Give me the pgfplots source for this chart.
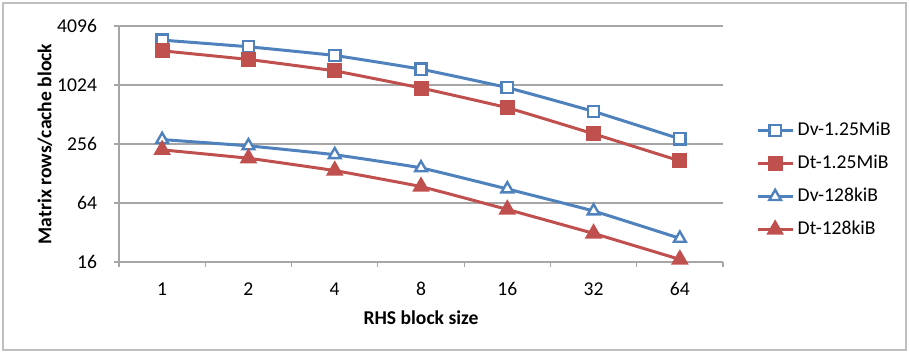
\documentclass[border=0pt]{standalone}
\usepackage{pgfplots}
\pgfplotsset{compat=1.18}
\usepackage{fontspec}
\setmainfont{Carlito}
\definecolor{xblue}{HTML}{4F81BD}
\definecolor{xred}{HTML}{C0504D}
\definecolor{xgrid}{HTML}{A6A6A6}
\definecolor{xborder}{HTML}{BFBFBF}
\begin{document}
\begin{tikzpicture}
\useasboundingbox (-59.5pt,-45.5pt) rectangle (395pt,131pt);
\draw[xborder, line width=0.8pt] (-58pt,-44pt) rectangle (393.5pt,129.5pt);
\begin{axis}[
  at={(0,0)}, anchor=south west,
  scale only axis, width=302pt, height=118pt,
  xmin=-0.5, xmax=6.5,
  xtick={0,...,6},
  xticklabels={1,2,4,8,16,32,64},
  minor xtick={-0.5,0.5,...,6.5},
  major x tick style={draw=none},
  minor x tick style={xgrid, line width=0.6pt},
  minor tick length=2.5pt,
  ymode=log, log basis y=2,
  ymin=16, ymax=4096,
  ytick={16,64,256,1024,4096},
  yticklabels={16,64,256,1024,4096},
  major tick length=2.5pt,
  tick align=outside,
  y tick style={xgrid, line width=0.6pt},
  ymajorgrids,
  grid style={xgrid, line width=0.6pt},
  axis x line*=bottom, axis y line*=left,
  axis line style={xgrid, line width=0.6pt, -},
  /pgf/number format/assume math mode=true,
  tick label style={font=\fontsize{9.8}{11}\selectfont, text=black},
  xticklabel style={anchor=center, yshift=-11pt},
  yticklabel style={anchor=east, xshift=-5pt},
  xlabel={RHS block size},
  ylabel={Matrix rows/cache block},
  label style={font=\bfseries\fontsize{9.8}{11}\selectfont},
  xlabel style={at={(axis description cs:0.5,0)}, anchor=center, yshift=-28pt},
  ylabel style={at={(axis description cs:-0.1225,0.5)}, anchor=center},
  legend style={draw=none, fill=none, at={(axis description cs:1.045,0.347)}, anchor=west,
    font=\fontsize{9.8}{11}\selectfont, row sep=4pt,
    nodes={text height=6.5pt, text depth=2pt}},
  legend cell align=left,
  every axis plot/.append style={line width=1.5pt, smooth, tension=0.2},
]
\addplot[xblue, mark=square*, mark size=2.8pt, mark options={fill=white, line width=1.2pt, solid}]
  coordinates {(0,2940) (1,2513) (2,2048) (3,1484) (4,963) (5,550) (6,289)};
\addlegendentry{Dv-1.25MiB}
\addplot[xred, mark=square*, mark size=3pt, mark options={fill=xred, solid}]
  coordinates {(0,2285) (1,1865) (2,1425) (3,954) (4,600) (5,325) (6,172)};
\addlegendentry{Dt-1.25MiB}
\addplot[xblue, mark=triangle*, mark size=3.4pt, mark options={fill=white, line width=1.2pt, solid}]
  coordinates {(0,284) (1,245) (2,199) (3,146) (4,89) (5,53) (6,27.9)};
\addlegendentry{Dv-128kiB}
\addplot[xred, mark=triangle*, mark size=3.6pt, mark options={fill=xred, solid}]
  coordinates {(0,223) (1,183) (2,137) (3,94) (4,55) (5,31.3) (6,17)};
\addlegendentry{Dt-128kiB}
\end{axis}
\end{tikzpicture}
\end{document}
